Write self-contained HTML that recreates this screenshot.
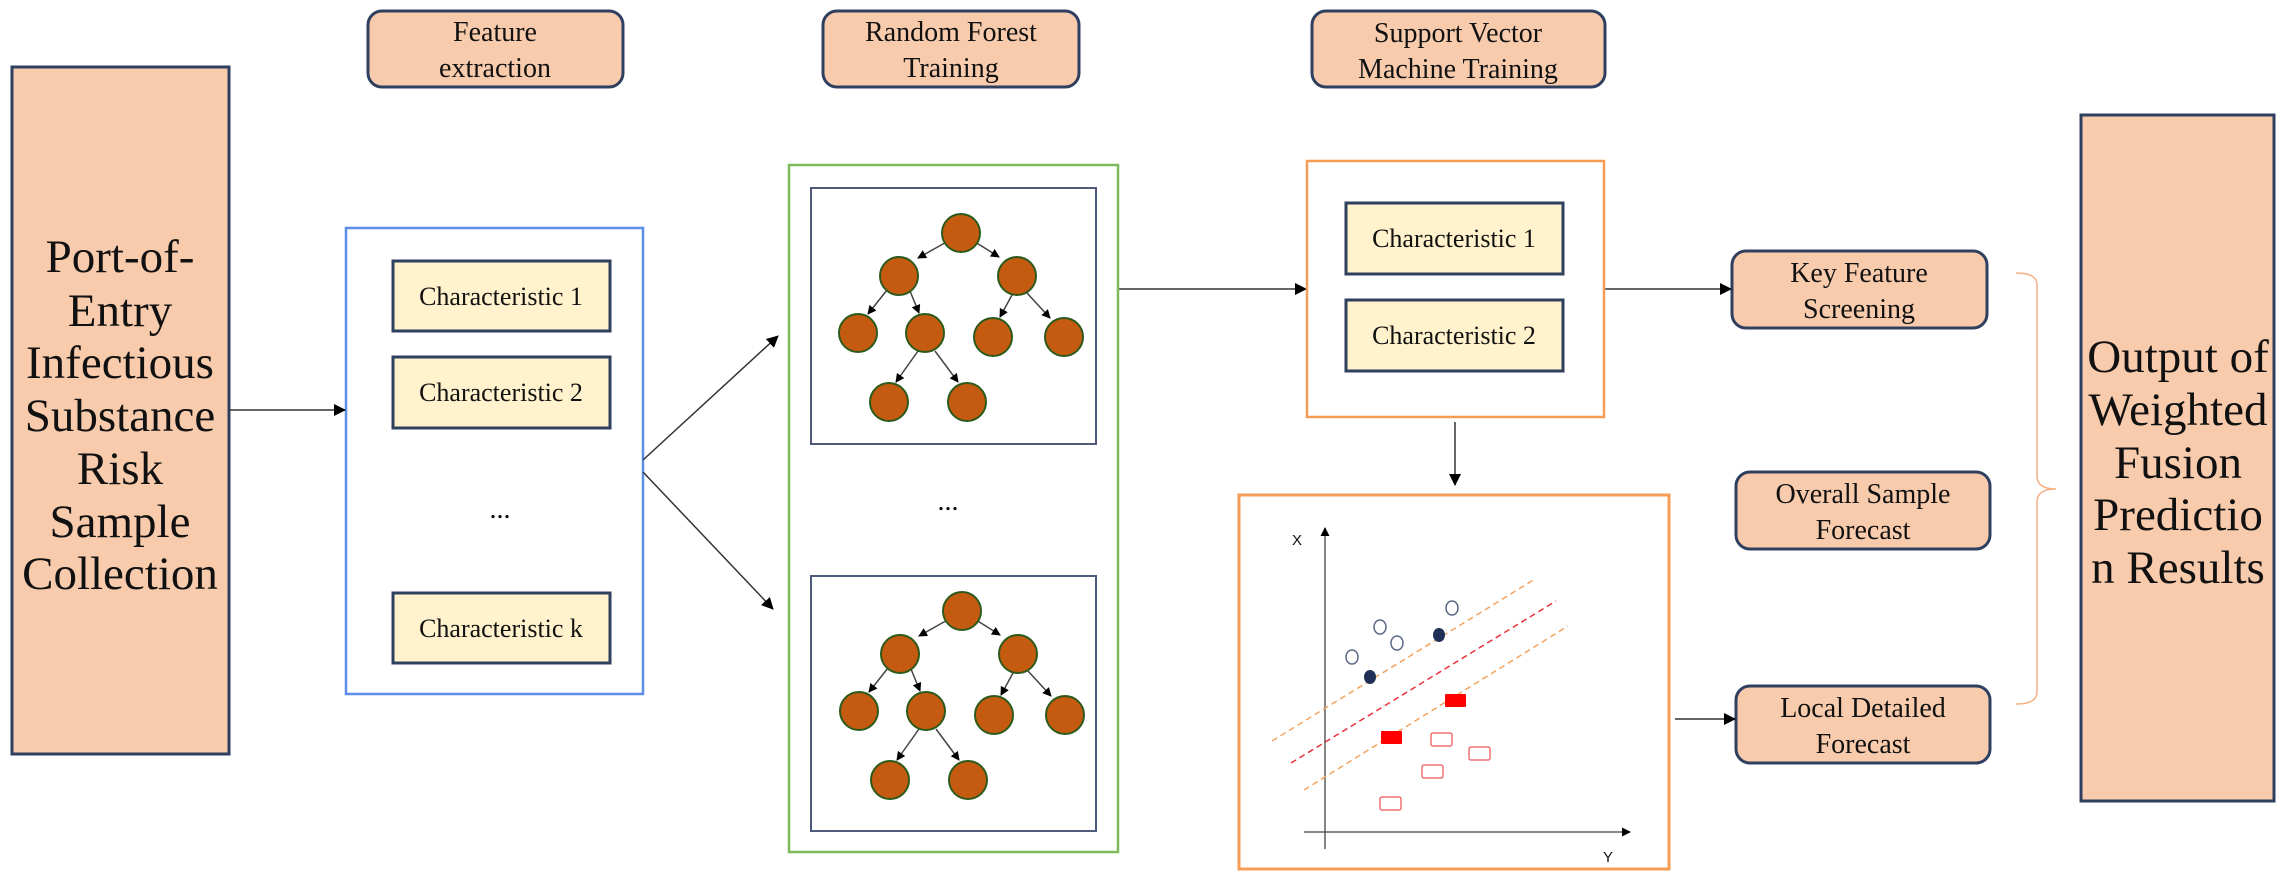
<!DOCTYPE html>
<html><head><meta charset="utf-8"><style>
html,body{margin:0;padding:0;background:#fff}
svg{display:block}
text{font-family:"Liberation Serif","Times New Roman",serif;fill:#111}
</style></head><body>
<svg width="2284" height="894" viewBox="0 0 2284 894" xmlns="http://www.w3.org/2000/svg" font-family="Liberation Serif, serif">
<defs>
<marker id="ah" markerWidth="12" markerHeight="12" refX="11" refY="6" orient="auto" markerUnits="userSpaceOnUse">
<path d="M0,0 L12,6 L0,12 z" fill="#000"/></marker>
<marker id="ahs" markerWidth="9" markerHeight="9" refX="8" refY="4.5" orient="auto" markerUnits="userSpaceOnUse">
<path d="M0,0 L9,4.5 L0,9 z" fill="#000"/></marker>
<g id="tree">
<g stroke="#444" stroke-width="1.5" marker-end="url(#ahs)">
<line x1="950" y1="240" x2="918" y2="258"/>
<line x1="972" y1="240" x2="999" y2="257"/>
<line x1="887" y1="290" x2="868" y2="314"/>
<line x1="910" y1="291" x2="919" y2="313"/>
<line x1="1012" y1="295" x2="1000" y2="317"/>
<line x1="1027" y1="293" x2="1050" y2="318"/>
<line x1="918" y1="351" x2="896" y2="382"/>
<line x1="935" y1="351" x2="958" y2="382"/>
</g>
<g fill="#c55a11" stroke="#2d5a1b" stroke-width="2">
<circle cx="961" cy="233" r="19"/>
<circle cx="899" cy="276" r="19"/>
<circle cx="1017" cy="276" r="19"/>
<circle cx="858" cy="333" r="19"/>
<circle cx="925" cy="333" r="19"/>
<circle cx="993" cy="337" r="19"/>
<circle cx="1064" cy="337" r="19"/>
<circle cx="889" cy="402" r="19"/>
<circle cx="967" cy="402" r="19"/>
</g>
</g>
</defs>

<rect x="12" y="67" width="217" height="687" fill="#f8cbad" stroke="#2f3f5f" stroke-width="3"/>
<g font-size="47" text-anchor="middle">
<text x="120" y="272">Port-of-</text>
<text x="120" y="326">Entry</text>
<text x="120" y="378">Infectious</text>
<text x="120" y="431">Substance</text>
<text x="120" y="484">Risk</text>
<text x="120" y="537">Sample</text>
<text x="120" y="589">Collection</text>
</g>

<g fill="#f8cbad" stroke="#2f3f5f" stroke-width="3">
<rect x="368" y="11" width="255" height="76" rx="14"/>
<rect x="823" y="11" width="256" height="76" rx="14"/>
<rect x="1312" y="11" width="293" height="76" rx="14"/>
<rect x="1732" y="251" width="255" height="77" rx="14"/>
<rect x="1736" y="472" width="254" height="77" rx="14"/>
<rect x="1736" y="686" width="254" height="77" rx="14"/>
</g>
<g font-size="28" text-anchor="middle">
<text x="495" y="41">Feature</text><text x="495" y="77">extraction</text>
<text x="951" y="41">Random Forest</text><text x="951" y="77">Training</text>
<text x="1458" y="42">Support Vector</text><text x="1458" y="78">Machine Training</text>
<text x="1859" y="282">Key Feature</text><text x="1859" y="318">Screening</text>
<text x="1863" y="503">Overall Sample</text><text x="1863" y="539">Forecast</text>
<text x="1863" y="717">Local Detailed</text><text x="1863" y="753">Forecast</text>
</g>

<rect x="346" y="228" width="297" height="466" fill="#fff" stroke="#5b8ee6" stroke-width="2.5"/>
<g fill="#fff2cc" stroke="#2f3f5f" stroke-width="3">
<rect x="393" y="261" width="217" height="70"/>
<rect x="393" y="357" width="217" height="71"/>
<rect x="393" y="593" width="217" height="70"/>
<rect x="1346" y="203" width="217" height="71"/>
<rect x="1346" y="300" width="217" height="71"/>
</g>
<g font-size="26" text-anchor="middle">
<text x="501" y="305">Characteristic 1</text>
<text x="501" y="401">Characteristic 2</text>
<text x="501" y="637">Characteristic k</text>
<text x="1454" y="247">Characteristic 1</text>
<text x="1454" y="344">Characteristic 2</text>
</g>
<text x="500" y="518" font-size="28" text-anchor="middle">...</text>

<g stroke="#333" stroke-width="1.5" fill="none" marker-end="url(#ah)">
<line x1="229" y1="410" x2="345" y2="410"/>
<line x1="643" y1="460" x2="778" y2="336"/>
<line x1="643" y1="472" x2="773" y2="609"/>
<line x1="1119" y1="289" x2="1306" y2="289"/>
<line x1="1604" y1="289" x2="1731" y2="289"/>
<line x1="1455" y1="422" x2="1455" y2="485"/>
<line x1="1675" y1="719" x2="1735" y2="719"/>
</g>

<rect x="789" y="165" width="329" height="687" fill="#fff" stroke="#7dbb5a" stroke-width="2.5"/>
<rect x="811" y="188" width="285" height="256" fill="#fff" stroke="#4f5b7a" stroke-width="2"/>
<rect x="811" y="576" width="285" height="255" fill="#fff" stroke="#4f5b7a" stroke-width="2"/>
<use href="#tree"/>
<use href="#tree" transform="translate(1,378)"/>
<text x="948" y="510" font-size="28" text-anchor="middle">...</text>

<rect x="1307" y="161" width="297" height="256" fill="none" stroke="#f59d56" stroke-width="2.5"/>

<rect x="1239" y="495" width="430" height="374" fill="#fff" stroke="#f59d56" stroke-width="3"/>
<line x1="1325" y1="849" x2="1325" y2="528" stroke="#444" stroke-width="1.3" marker-end="url(#ahs)"/>
<line x1="1304" y1="832" x2="1630" y2="832" stroke="#444" stroke-width="1.3" marker-end="url(#ahs)"/>
<text x="1297" y="545" font-size="15" text-anchor="middle" style="font-family:'Liberation Sans',sans-serif">X</text>
<text x="1608" y="862" font-size="15" text-anchor="middle" style="font-family:'Liberation Sans',sans-serif">Y</text>
<g stroke-dasharray="6,4" stroke-width="1.5">
<line x1="1272" y1="741" x2="1535" y2="579" stroke="#f4a460"/>
<line x1="1291" y1="763" x2="1556" y2="601" stroke="#e8323c"/>
<line x1="1304" y1="790" x2="1568" y2="626" stroke="#f4a460"/>
</g>
<g fill="none" stroke="#5b6a8a" stroke-width="1.5">
<ellipse cx="1352" cy="657" rx="6" ry="7"/>
<ellipse cx="1380" cy="627" rx="6" ry="7"/>
<ellipse cx="1397" cy="643" rx="6" ry="7"/>
<ellipse cx="1452" cy="608" rx="6" ry="7"/>
</g>
<g fill="#1f2f55">
<ellipse cx="1370" cy="677" rx="6" ry="7"/>
<ellipse cx="1439" cy="635" rx="6" ry="7"/>
</g>
<g fill="#f00">
<rect x="1445" y="694" width="21" height="13" rx="1"/>
<rect x="1381" y="731" width="21" height="13" rx="1"/>
</g>
<g fill="none" stroke="#f07070" stroke-width="1.5">
<rect x="1431" y="733" width="21" height="13" rx="2"/>
<rect x="1469" y="747" width="21" height="13" rx="2"/>
<rect x="1422" y="765" width="21" height="13" rx="2"/>
<rect x="1380" y="797" width="21" height="13" rx="2"/>
</g>

<path d="M2016,273 Q2037,273 2037,285 L2037,476 Q2037,489 2056,489 Q2037,489 2037,502 L2037,692 Q2037,704 2016,704" fill="none" stroke="#f4b183" stroke-width="1.5"/>

<rect x="2081" y="115" width="193" height="686" fill="#f8cbad" stroke="#2f3f5f" stroke-width="3"/>
<g font-size="47" text-anchor="middle">
<text x="2178" y="372">Output of</text>
<text x="2178" y="425">Weighted</text>
<text x="2178" y="478">Fusion</text>
<text x="2178" y="530">Predictio</text>
<text x="2178" y="583">n Results</text>
</g>
</svg>
</body></html>
